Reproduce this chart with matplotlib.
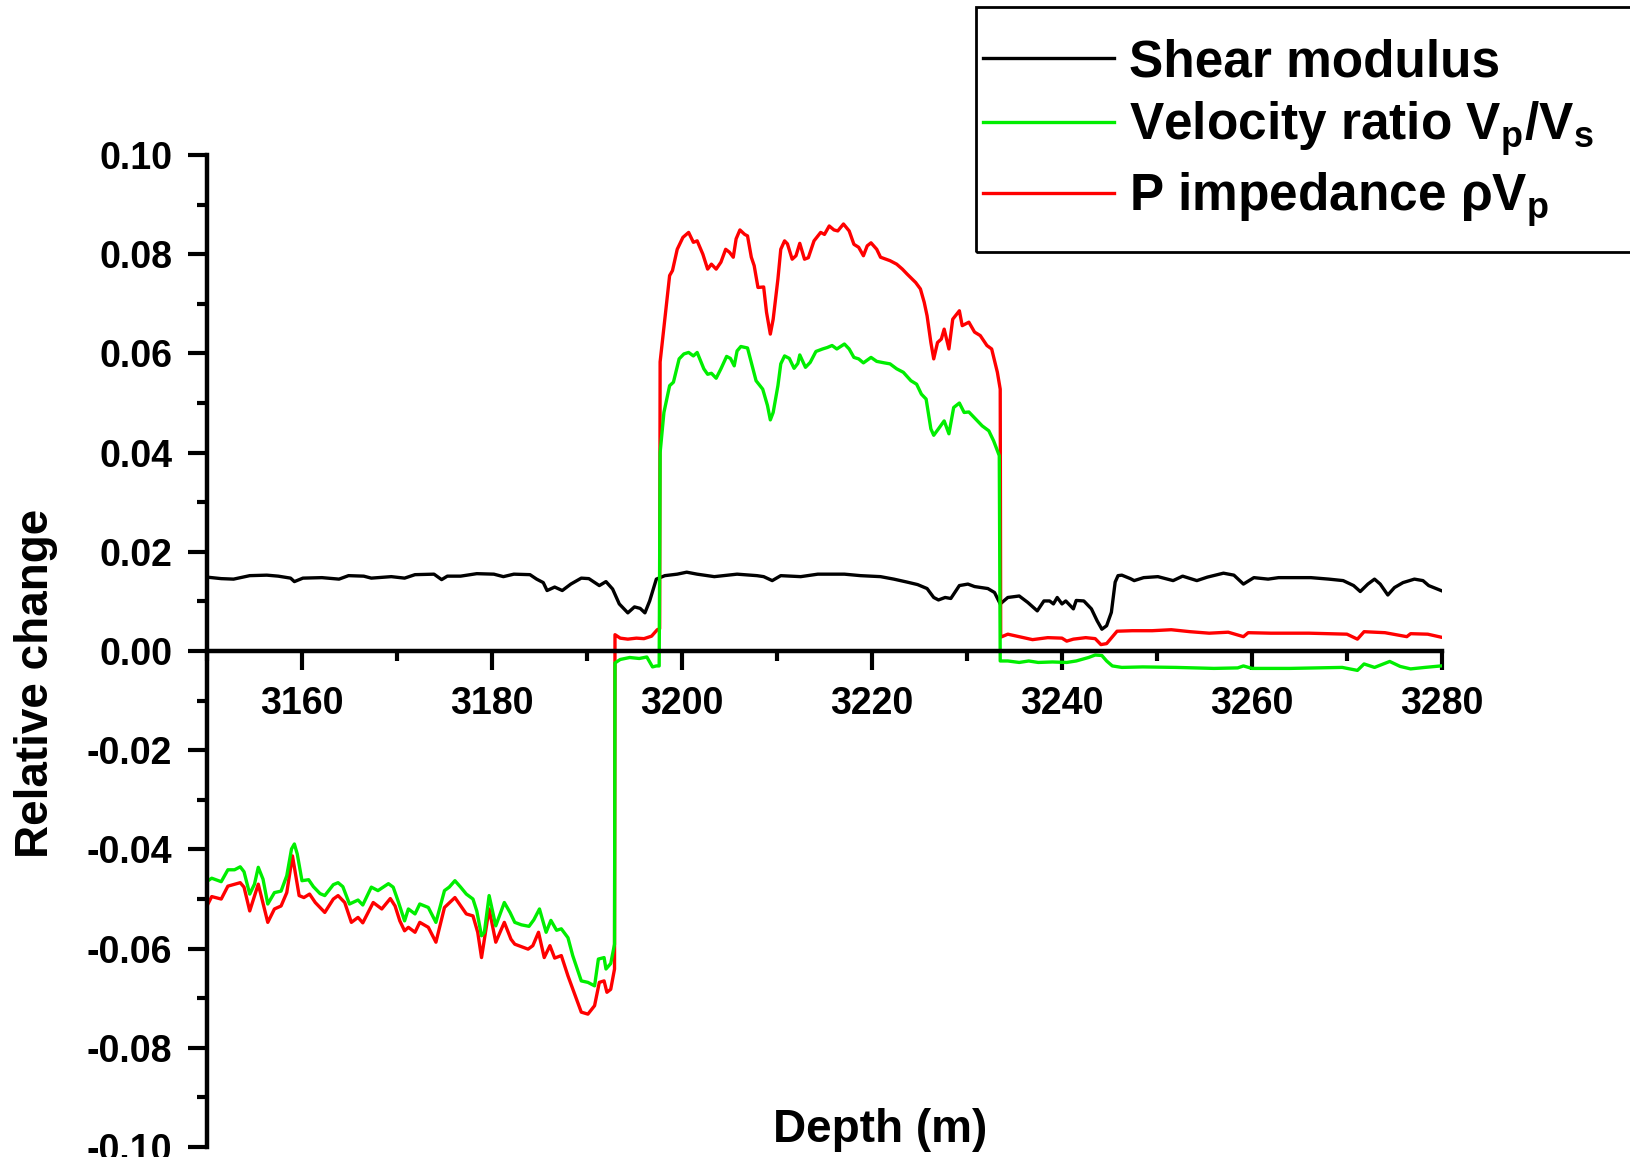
import matplotlib
matplotlib.use("Agg")
import matplotlib.pyplot as plt
from matplotlib.lines import Line2D
from matplotlib.patches import Rectangle
from matplotlib.ticker import MultipleLocator, FuncFormatter

plt.rcParams['font.family'] = ['Liberation Sans', 'DejaVu Sans']
plt.rcParams['font.weight'] = 'bold'
plt.rcParams['mathtext.fontset'] = 'custom'
plt.rcParams['mathtext.rm'] = 'Liberation Sans:bold'
plt.rcParams['mathtext.it'] = 'Liberation Sans:bold'
plt.rcParams['mathtext.bf'] = 'Liberation Sans:bold'

# shear modulus (black)
depth_shear = [3150.0, 3151.5, 3152.8, 3154.5, 3156.3, 3157.5, 3158.8, 3159.2, 3160.1, 3162.1,
               3163.9, 3164.9, 3166.5, 3167.3, 3169.4, 3170.8, 3171.9, 3173.9, 3174.7, 3175.3,
               3176.7, 3178.4, 3180.2, 3181.2, 3182.3, 3184.0, 3184.7, 3185.4, 3185.8, 3186.6,
               3187.4, 3188.3, 3189.4, 3190.2, 3191.3, 3192.0, 3192.7, 3193.4, 3194.3, 3195.0,
               3195.6, 3196.1, 3196.6, 3197.3, 3198.2, 3199.5, 3200.5, 3201.6, 3203.4, 3205.8,
               3207.9, 3208.6, 3209.5, 3210.4, 3212.5, 3214.3, 3217.1, 3218.8, 3220.9, 3222.3,
               3223.7, 3224.8, 3225.8, 3226.5, 3227.0, 3227.7, 3228.3, 3229.2, 3230.1, 3230.8,
               3232.2, 3232.9, 3233.5, 3234.3, 3235.5, 3236.4, 3237.4, 3238.1, 3238.7, 3239.1,
               3239.5, 3240.0, 3240.4, 3241.2, 3241.5, 3242.3, 3243.1, 3243.7, 3244.2, 3244.7,
               3245.2, 3245.6, 3245.9, 3246.3, 3247.2, 3247.6, 3248.6, 3250.1, 3251.7, 3252.7,
               3254.2, 3255.3, 3257.0, 3258.1, 3259.1, 3260.2, 3261.7, 3262.8, 3264.3, 3266.2,
               3268.1, 3269.6, 3270.7, 3271.4, 3272.2, 3272.9, 3273.5, 3274.3, 3275.0, 3275.9,
               3277.1, 3278.0, 3278.6, 3279.9]
shear = [0.0149, 0.0146, 0.0145, 0.0152, 0.0153, 0.0151, 0.0147, 0.0140, 0.0147, 0.0148,
         0.0145, 0.0152, 0.0151, 0.0147, 0.0150, 0.0147, 0.0154, 0.0155, 0.0144, 0.0151,
         0.0151, 0.0156, 0.0155, 0.0150, 0.0155, 0.0154, 0.0145, 0.0138, 0.0122, 0.0129,
         0.0122, 0.0135, 0.0147, 0.0146, 0.0132, 0.0140, 0.0125, 0.0095, 0.0077, 0.0089,
         0.0086, 0.0077, 0.0101, 0.0145, 0.0152, 0.0155, 0.0159, 0.0155, 0.0150, 0.0155,
         0.0152, 0.0150, 0.0142, 0.0152, 0.0150, 0.0155, 0.0155, 0.0152, 0.0150, 0.0145,
         0.0139, 0.0134, 0.0126, 0.0108, 0.0103, 0.0108, 0.0106, 0.0132, 0.0135, 0.0130,
         0.0126, 0.0118, 0.0095, 0.0108, 0.0111, 0.0098, 0.0081, 0.0101, 0.0101, 0.0095,
         0.0108, 0.0095, 0.0101, 0.0085, 0.0102, 0.0101, 0.0085, 0.0061, 0.0044, 0.0051,
         0.0078, 0.0139, 0.0152, 0.0153, 0.0146, 0.0142, 0.0148, 0.0150, 0.0142, 0.0151,
         0.0142, 0.0149, 0.0157, 0.0153, 0.0135, 0.0148, 0.0145, 0.0148, 0.0148, 0.0148,
         0.0145, 0.0142, 0.0132, 0.0120, 0.0135, 0.0145, 0.0135, 0.0113, 0.0128, 0.0138,
         0.0145, 0.0142, 0.0132, 0.0122]

# velocity ratio Vp/Vs (green)
depth_vpvs = [3150.1, 3150.5, 3151.5, 3152.2, 3152.9, 3153.5, 3153.9, 3154.5, 3155.0, 3155.4,
              3155.9, 3156.4, 3157.1, 3157.8, 3158.4, 3158.9, 3159.2, 3159.5, 3160.0, 3160.7,
              3161.2, 3161.9, 3162.4, 3163.3, 3163.8, 3164.3, 3165.0, 3165.9, 3166.4, 3167.3,
              3168.0, 3169.1, 3169.6, 3170.1, 3170.8, 3171.2, 3171.9, 3172.4, 3173.3, 3174.1,
              3175.0, 3175.5, 3176.1, 3176.7, 3177.3, 3178.0, 3178.4, 3178.9, 3179.2, 3179.7,
              3180.4, 3181.3, 3181.9, 3182.4, 3183.1, 3183.9, 3184.4, 3185.0, 3185.7, 3186.2,
              3186.8, 3187.3, 3188.0, 3188.5, 3189.4, 3190.1, 3190.8, 3191.2, 3191.8, 3192.0,
              3192.5, 3192.9, 3192.95, 3193.5, 3194.5, 3195.5, 3196.3, 3196.9, 3197.3, 3197.6,
              3197.7, 3198.1, 3198.7, 3199.1, 3199.7, 3200.2, 3200.7, 3201.2, 3201.6, 3202.3,
              3202.7, 3203.1, 3203.6, 3204.1, 3204.7, 3205.1, 3205.5, 3205.8, 3206.2, 3206.9,
              3207.3, 3207.8, 3208.5, 3209.0, 3209.3, 3209.6, 3210.1, 3210.4, 3210.8, 3211.3,
              3211.8, 3212.2, 3212.4, 3213.0, 3213.5, 3214.1, 3214.8, 3215.3, 3215.8, 3216.3,
              3217.1, 3217.6, 3218.1, 3218.6, 3219.1, 3219.9, 3220.5, 3221.3, 3221.9, 3222.6,
              3223.3, 3224.1, 3224.7, 3225.2, 3225.7, 3226.2, 3226.5, 3227.0, 3227.6, 3228.1,
              3228.6, 3229.2, 3229.7, 3230.2, 3230.9, 3231.6, 3232.3, 3232.8, 3233.4, 3233.5,
              3234.3, 3235.5, 3236.5, 3237.5, 3239.0, 3240.5, 3241.5, 3242.8, 3243.5, 3244.2,
              3244.7, 3245.3, 3246.3, 3248.5, 3252.0, 3256.0, 3258.5, 3259.1, 3260.0, 3264.0,
              3269.5, 3271.1, 3271.8, 3272.9, 3274.5, 3275.6, 3276.7, 3278.2, 3279.9]
vpvs = [-0.0463, -0.0458, -0.0465, -0.0441, -0.0441, -0.0435, -0.0445, -0.0490, -0.0470, -0.0436,
        -0.0460, -0.0510, -0.0487, -0.0484, -0.0453, -0.0399, -0.0389, -0.0409, -0.0463, -0.0461,
        -0.0475, -0.0489, -0.0493, -0.0471, -0.0467, -0.0475, -0.0510, -0.0502, -0.0512, -0.0476,
        -0.0483, -0.0469, -0.0476, -0.0503, -0.0544, -0.0520, -0.0530, -0.0510, -0.0517, -0.0547,
        -0.0483, -0.0476, -0.0463, -0.0476, -0.0490, -0.0500, -0.0524, -0.0574, -0.0567, -0.0493,
        -0.0554, -0.0507, -0.0527, -0.0547, -0.0552, -0.0555, -0.0542, -0.0520, -0.0567, -0.0543,
        -0.0563, -0.0560, -0.0578, -0.0614, -0.0665, -0.0668, -0.0675, -0.0621, -0.0618, -0.0641,
        -0.0630, -0.0591, -0.0024, -0.0017, -0.0013, -0.0015, -0.0012, -0.0032, -0.0030, -0.0030,
        0.0400, 0.0481, 0.0535, 0.0542, 0.0589, 0.0599, 0.0602, 0.0595, 0.0602, 0.0569,
        0.0558, 0.0560, 0.0550, 0.0569, 0.0594, 0.0590, 0.0575, 0.0605, 0.0614, 0.0611,
        0.0582, 0.0545, 0.0528, 0.0495, 0.0466, 0.0481, 0.0535, 0.0579, 0.0595, 0.0590,
        0.0570, 0.0580, 0.0597, 0.0572, 0.0582, 0.0604, 0.0609, 0.0612, 0.0616, 0.0609,
        0.0619, 0.0609, 0.0592, 0.0589, 0.0581, 0.0592, 0.0584, 0.0581, 0.0579, 0.0569,
        0.0562, 0.0545, 0.0538, 0.0518, 0.0508, 0.0448, 0.0435, 0.0448, 0.0464, 0.0438,
        0.0491, 0.0500, 0.0481, 0.0482, 0.0468, 0.0454, 0.0444, 0.0424, 0.0394, -0.0020,
        -0.0020, -0.0023, -0.0020, -0.0023, -0.0022, -0.0023, -0.0020, -0.0013, -0.0008, -0.0009,
        -0.0020, -0.0030, -0.0033, -0.0032, -0.0033, -0.0035, -0.0034, -0.0030, -0.0035, -0.0035,
        -0.0033, -0.0039, -0.0026, -0.0033, -0.0021, -0.0031, -0.0036, -0.0033, -0.0030]

# P impedance (red)
depth_imp = [3150.1, 3150.5, 3151.5, 3152.2, 3153.5, 3153.9, 3154.5, 3155.4, 3156.4, 3157.1,
             3157.8, 3158.4, 3159.0, 3159.7, 3160.2, 3160.8, 3161.4, 3162.4, 3163.3, 3163.8,
             3164.5, 3165.2, 3165.9, 3166.4, 3167.5, 3168.4, 3169.3, 3169.8, 3170.3, 3170.8,
             3171.2, 3171.9, 3172.4, 3173.3, 3174.1, 3175.0, 3176.1, 3177.3, 3178.0, 3178.5,
             3178.9, 3179.7, 3180.4, 3181.3, 3182.0, 3182.4, 3183.8, 3184.3, 3184.9, 3185.5,
             3186.1, 3186.6, 3187.3, 3188.0, 3188.9, 3189.4, 3190.1, 3190.8, 3191.3, 3191.8,
             3192.1, 3192.5, 3192.9, 3192.95, 3193.5, 3194.3, 3195.2, 3196.0, 3196.8, 3197.4,
             3197.65, 3197.7, 3198.7, 3199.0, 3199.5, 3200.1, 3200.7, 3201.2, 3201.6, 3202.2,
             3202.7, 3203.1, 3203.6, 3204.1, 3204.6, 3205.0, 3205.4, 3205.7, 3206.1, 3206.6,
             3206.9, 3207.3, 3207.6, 3208.0, 3208.6, 3208.9, 3209.3, 3209.6, 3210.1, 3210.4,
             3210.8, 3211.1, 3211.6, 3212.0, 3212.4, 3212.9, 3213.3, 3213.9, 3214.6, 3215.0,
             3215.5, 3216.0, 3216.4, 3217.0, 3217.6, 3218.1, 3218.6, 3219.1, 3219.5, 3219.9,
             3220.5, 3220.9, 3221.9, 3222.6, 3223.2, 3223.7, 3224.6, 3225.1, 3225.5, 3225.8,
             3226.2, 3226.5, 3226.9, 3227.3, 3227.6, 3228.1, 3228.5, 3229.2, 3229.5, 3230.2,
             3230.8, 3231.4, 3232.1, 3232.6, 3233.2, 3233.5, 3233.55, 3234.3, 3235.5, 3236.9,
             3238.5, 3240.0, 3240.5, 3241.2, 3242.5, 3243.5, 3244.1, 3244.7, 3245.4, 3245.8,
             3247.4, 3249.5, 3251.5, 3253.5, 3255.5, 3257.5, 3259.1, 3259.6, 3262.0, 3266.0,
             3270.0, 3271.1, 3271.8, 3274.0, 3276.3, 3276.7, 3278.5, 3279.9]
imp = [-0.0510, -0.0495, -0.0500, -0.0474, -0.0467, -0.0476, -0.0524, -0.0470, -0.0547, -0.0520,
       -0.0514, -0.0487, -0.0413, -0.0493, -0.0497, -0.0490, -0.0507, -0.0527, -0.0500, -0.0493,
       -0.0507, -0.0547, -0.0537, -0.0548, -0.0507, -0.0520, -0.0499, -0.0514, -0.0544, -0.0564,
       -0.0557, -0.0567, -0.0547, -0.0557, -0.0587, -0.0517, -0.0497, -0.0530, -0.0534, -0.0567,
       -0.0618, -0.0520, -0.0587, -0.0547, -0.0581, -0.0591, -0.0601, -0.0594, -0.0567, -0.0618,
       -0.0594, -0.0619, -0.0614, -0.0655, -0.0702, -0.0728, -0.0732, -0.0715, -0.0668, -0.0665,
       -0.0688, -0.0682, -0.0641, 0.0033, 0.0026, 0.0024, 0.0026, 0.0025, 0.0030, 0.0043,
       0.0045, 0.0583, 0.0757, 0.0767, 0.0810, 0.0834, 0.0844, 0.0824, 0.0827, 0.0800,
       0.0770, 0.0780, 0.0770, 0.0784, 0.0810, 0.0804, 0.0794, 0.0831, 0.0849, 0.0840,
       0.0837, 0.0794, 0.0777, 0.0733, 0.0734, 0.0683, 0.0639, 0.0669, 0.0750, 0.0810,
       0.0827, 0.0821, 0.0790, 0.0797, 0.0822, 0.0790, 0.0793, 0.0827, 0.0844, 0.0840,
       0.0857, 0.0849, 0.0847, 0.0861, 0.0847, 0.0820, 0.0814, 0.0797, 0.0817, 0.0823,
       0.0810, 0.0794, 0.0787, 0.0780, 0.0770, 0.0760, 0.0743, 0.0730, 0.0703, 0.0676,
       0.0622, 0.0589, 0.0622, 0.0629, 0.0649, 0.0609, 0.0669, 0.0686, 0.0656, 0.0663,
       0.0643, 0.0636, 0.0616, 0.0609, 0.0562, 0.0528, 0.0028, 0.0034, 0.0029, 0.0023,
       0.0027, 0.0026, 0.0020, 0.0024, 0.0027, 0.0025, 0.0013, 0.0015, 0.0031, 0.0040,
       0.0041, 0.0041, 0.0043, 0.0039, 0.0036, 0.0038, 0.0029, 0.0037, 0.0036, 0.0036,
       0.0034, 0.0024, 0.0039, 0.0037, 0.0029, 0.0035, 0.0034, 0.0028]

labels = ['Shear modulus', r'Velocity ratio $\mathrm{V_p/V_s}$', r'P impedance $\rho\mathrm{V_p}$']

fig = plt.figure(figsize=(16.31, 11.57), dpi=100)
ax = fig.add_axes([0.1269, 0.0086, 0.7572, 0.8574])

lw = 2.4
green = '#00ee00'
l_shear, = ax.plot(depth_shear, shear, color='black', lw=lw)
l_imp, = ax.plot(depth_imp, imp, color='#ff0000', lw=lw)
l_vpvs, = ax.plot(depth_vpvs, vpvs, color=green, lw=lw)

ax.set_xlim(3150, 3280)
ax.set_ylim(-0.10, 0.10)

ax.spines['top'].set_visible(False)
ax.spines['right'].set_visible(False)
ax.spines['bottom'].set_position(('data', 0))
ax.spines['left'].set_linewidth(3.2)
ax.spines['bottom'].set_linewidth(3.2)

ax.xaxis.set_major_locator(MultipleLocator(20))
ax.xaxis.set_minor_locator(MultipleLocator(10))
ax.yaxis.set_major_locator(MultipleLocator(0.02))
ax.yaxis.set_minor_locator(MultipleLocator(0.01))
ax.yaxis.set_major_formatter(FuncFormatter(lambda v, pos: '%.2f' % (round(v, 2) + 0.0)))
ax.tick_params(which='major', direction='out', length=14, width=3, labelsize=27)
ax.tick_params(which='minor', direction='out', length=7, width=3)
ax.tick_params(axis='x', which='major', pad=11)
ax.tick_params(axis='y', which='major', pad=11)
for t in ax.get_xticklabels() + ax.get_yticklabels():
    t.set_fontweight('bold')

fig.text(0.0221, 0.4097, 'Relative change', rotation=90, ha='center', va='center',
         fontsize=33, fontweight='bold')
fig.text(0.5395, 0.0233, 'Depth (m)', ha='center', va='center', fontsize=33, fontweight='bold')

# legend box runs off the right edge like in the original
fig.add_artist(Rectangle((0.5984, 0.782), 0.5, 0.2117, transform=fig.transFigure,
                         fill=False, edgecolor='black', lw=2))
handles = [Line2D([], [], color='black', lw=lw),
           Line2D([], [], color=green, lw=lw),
           Line2D([], [], color='#ff0000', lw=lw)]
leg = fig.legend(handles, labels, loc='upper left', bbox_to_anchor=(0.6027, 0.9668),
                 bbox_transform=fig.transFigure, borderaxespad=0, borderpad=0,
                 fontsize=37, frameon=False,
                 handlelength=2.55, handletextpad=0.3, labelspacing=0.24)

fig.savefig('out.png', dpi=100)
